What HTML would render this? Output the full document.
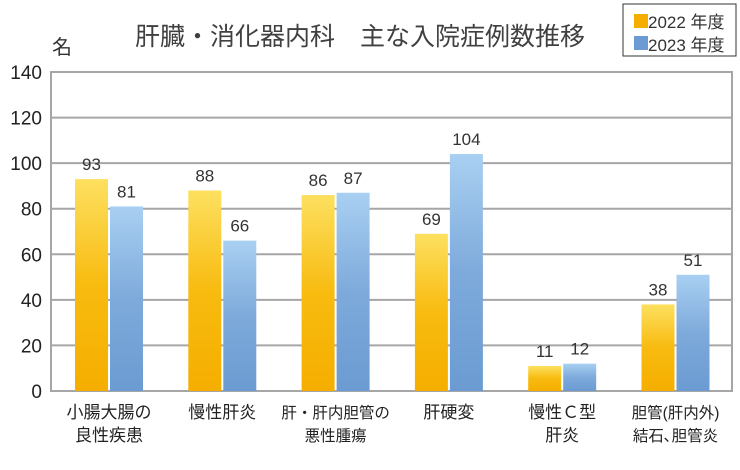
<!DOCTYPE html>
<html><head><meta charset="utf-8"><style>
body{margin:0;background:#fff;width:740px;height:465px;overflow:hidden;font-family:"Liberation Sans","Noto Sans CJK JP",sans-serif;}
</style></head><body>
<svg id="c" width="740" height="465" xmlns="http://www.w3.org/2000/svg">
<defs>
<linearGradient id="go" x1="0" y1="0" x2="0" y2="1"><stop offset="0" stop-color="#fde060"/><stop offset="0.5" stop-color="#f8bb10"/><stop offset="1" stop-color="#f5ae00"/></linearGradient>
<linearGradient id="gb" x1="0" y1="0" x2="0" y2="1"><stop offset="0" stop-color="#a9d0f2"/><stop offset="0.5" stop-color="#7eaadb"/><stop offset="1" stop-color="#6b9bd2"/></linearGradient>
</defs>
<text x="360" y="45" text-anchor="middle" font-size="25" fill="#404040">肝臓・消化器内科　主な入院症例数推移</text>
<text x="52" y="54" font-size="20" fill="#333">名</text>
<g>
<rect x="623" y="4" width="113" height="52" fill="#fff" stroke="#333" stroke-width="1"/>
<g><rect x="634" y="14" width="14" height="14" fill="#f5ae00"/><text x="648" y="28" font-size="17" fill="#333">2022 年度</text></g>
<g><rect x="634" y="36" width="14" height="14" fill="#6b9bd2"/><text x="648" y="51" font-size="17" fill="#333">2023 年度</text></g>
</g>
<g id="grid"></g><g id="bars"></g><g id="lbl"></g>
</svg>
<script>
const categories=[["小腸大腸の","良性疾患"],["慢性肝炎"],["肝・肝内胆管の","悪性腫瘍"],["肝硬変"],["慢性Ｃ型","肝炎"],["胆管(肝内外)","結石､胆管炎"]];
const values2022=[93,88,86,69,11,38];
const values2023=[81,66,87,104,12,51];
const yTicks=[0,20,40,60,80,100,120,140];
const NS="http://www.w3.org/2000/svg";
const L=51,R=732,T=72,B=391,yMax=140;
const y=v=>B-(B-T)*v/yMax;
const cx=i=>109+i*113.3;
const bw=33;
function mk(tag,attrs,parent){const e=document.createElementNS(NS,tag);for(const k in attrs)e.setAttribute(k,attrs[k]);parent.appendChild(e);return e;}
const grid=document.getElementById('grid'),bars=document.getElementById('bars'),lbl=document.getElementById('lbl');
yTicks.forEach(t=>{
  if(t>0&&t<yMax){const g=mk('line',{x1:L,x2:R,y1:y(t),y2:y(t),stroke:'#a6a6a6','stroke-width':2},grid);
  
  }
  const tx=mk('text',{x:42,y:y(t)+7,'text-anchor':'end','font-size':19,fill:'#222'},grid);
  tx.textContent=t;
  
  
});
const fr=mk('rect',{x:L,y:T,width:R-L,height:B-T,fill:'none',stroke:'#a6a6a6','stroke-width':2},grid);


categories.forEach((c,i)=>{
  [[values2022[i],'url(#go)',-bw-1,'2022'],[values2023[i],'url(#gb)',1,'2023']].forEach(([v,f,dx,s])=>{
    const r=mk('rect',{x:cx(i)+dx,y:y(v),width:bw,height:B-y(v),fill:f},bars);
    
    
    const vt=mk('text',{x:cx(i)+dx+bw/2,y:y(v)-9,'text-anchor':'middle','font-size':17,fill:'#333'},lbl);
    vt.textContent=v;
    
    
  });
  c.forEach((line,j)=>{
    const t=mk('text',{x:cx(i),y:418+j*23,'text-anchor':'middle','font-size':c[0].length>6?15.5:17,fill:'#222'},lbl);
    t.textContent=line;
    
    
  });
});
</script>
</body></html>
